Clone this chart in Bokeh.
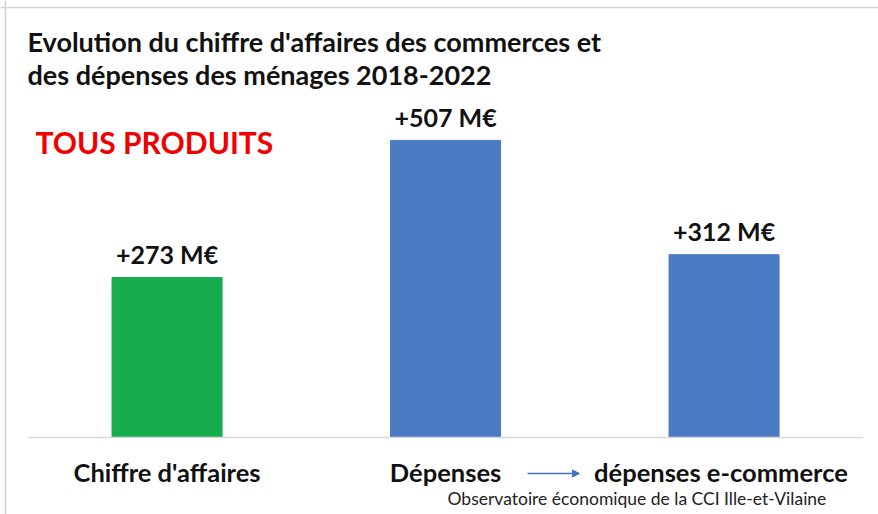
from bokeh.plotting import figure
from bokeh.models import Range1d, Label, Arrow, NormalHead, Span, ColumnDataSource
from bokeh.core.properties import value
from bokeh.embed import file_html
from bokeh.resources import INLINE

# ---- data ----
categories = ["Chiffre d'affaires", "Dépenses", "dépenses  e-commerce"]
values = [273, 507, 312]
value_labels = ["+273 M€", "+507 M€", "+312 M€"]
bar_colors = ["#17AD4E", "#4A7BC3", "#4A7BC3"]
title_lines = ["Evolution du chiffre d'affaires des commerces et",
               "des dépenses des ménages 2018-2022"]
subtitle = "TOUS PRODUITS"
source_text = "Observatoire économique de la CCI Ille-et-Vilaine"

# ---- layout (figure pixels) ----
W, H = 878, 514
left_pad, right_pad = 27.3, 15.2
zero_px = 437            # distance of baseline from top
px_per_unit_y = 0.586
n = len(categories)
unit_x = (W - left_pad - right_pad) / n

x_range = Range1d(-left_pad / unit_x, n + right_pad / unit_x)
y_range = Range1d(-(H - zero_px) / px_per_unit_y, zero_px / px_per_unit_y)

def fx(px):
    return x_range.start + px / unit_x

def fy(py):  # py measured from top
    return (zero_px - py) / px_per_unit_y

BASE = 0.38  # baseline compensation (fraction of font size)

p = figure(width=W, height=H, x_range=x_range, y_range=y_range,
           output_backend="svg", toolbar_location=None,
           x_axis_type=None, y_axis_type=None, min_border=0)
p.grid.visible = False
p.outline_line_color = None
p.background_fill_color = "white"
p.border_fill_color = "white"

FONT = "Lato"

xs = [i + 0.5 for i in range(n)]
src = ColumnDataSource(dict(x=xs, top=values, color=bar_colors,
                            lab=value_labels, cat=categories, zero=[0] * n))

p.vbar(x="x", top="top", bottom=0, width=0.395, color="color", source=src)

# baseline
p.segment(x0=[0], y0=[0], x1=[n], y1=[0], line_color="#D9D9D9", line_width=1.5)

# value labels
vsize = 25
p.text(x="x", y="top", text="lab", source=src, text_font=value(FONT),
       text_font_style="bold", text_font_size=f"{vsize}px", text_color="#111111",
       text_align="center", text_baseline="alphabetic", y_offset=-14 - BASE * vsize)

# category labels
csize = 25.5
p.text(x="x", y="zero", text="cat", source=src, text_font=value(FONT),
       text_font_style="bold", text_font_size=f"{csize}px", text_color="#111111",
       text_align="center", text_baseline="alphabetic", y_offset=44 - BASE * csize)

# arrow between Dépenses and e-commerce
p.add_layout(Arrow(end=NormalHead(size=7, fill_color="#4472C4", line_color="#4472C4"),
                   x_start=fx(527), y_start=fy(473), x_end=fx(579), y_end=fy(473),
                   line_color="#4472C4", line_width=1.5))

# titles
tsize = 27
for i, t in enumerate(title_lines):
    p.add_layout(Label(x=fx(27), y=fy(51 + 33 * i - BASE * tsize), text=t, text_font=FONT,
                       text_font_style="bold", text_font_size=f"{tsize}px",
                       text_color="#111111", text_baseline="alphabetic"))

ssize = 30
p.add_layout(Label(x=fx(35), y=fy(153 - BASE * ssize), text=subtitle, text_font=FONT,
                   text_font_style="bold", text_font_size=f"{ssize}px",
                   text_color="#F00000", text_baseline="alphabetic"))

rsize = 17.5
p.add_layout(Label(x=fx(447), y=fy(505 - BASE * rsize), text=source_text, text_font=FONT,
                   text_font_size=f"{rsize}px", text_color="#222222",
                   text_baseline="alphabetic"))

# frame border (left & top)
p.add_layout(Span(location=fx(5), dimension="height", line_color="#D3D3D3", line_width=1.5))
p.add_layout(Span(location=fy(7), dimension="width", line_color="#D3D3D3", line_width=1.5))

open("out.html", "w").write(file_html(p, INLINE))
